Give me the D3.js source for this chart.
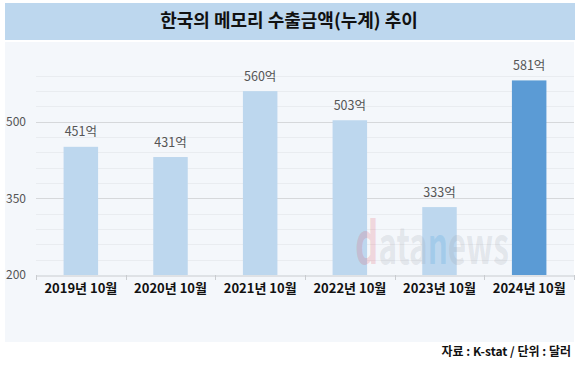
<!DOCTYPE html>
<html>
<head>
<meta charset="utf-8">
<script src="https://cdn.jsdelivr.net/npm/d3@7"></script>
<style>
  html, body { margin: 0; padding: 0; background: #ffffff; }
  svg { display: block; }
  text { font-family: "Noto Sans CJK KR", "Noto Sans", sans-serif; }
</style>
</head>
<body>
<svg id="chart" width="580" height="367"></svg>
<script>
const title = "한국의 메모리 수출금액(누계) 추이";
const source = "자료 : K-stat / 단위 : 달러";
const categories = ["2019년 10월", "2020년 10월", "2021년 10월", "2022년 10월", "2023년 10월", "2024년 10월"];
const values = [451, 431, 560, 503, 333, 581];
const valueLabels = ["451억", "431억", "560억", "503억", "333억", "581억"];
const highlight = [false, false, false, false, false, true];
const majorTicks = [200, 350, 500];
const minorTicks = [230, 260, 290, 320, 380, 410, 440, 470, 530, 560, 590];

const svg = d3.select("#chart");
const W = 580, H = 367;

// backgrounds
svg.append("rect").attr("x", 0).attr("y", 0).attr("width", W).attr("height", H).attr("fill", "#ffffff");
svg.append("rect").attr("x", 5).attr("y", 3).attr("width", 570).attr("height", 37).attr("fill", "#bdd7ee");
svg.append("rect").attr("x", 5).attr("y", 42).attr("width", 569).attr("height", 300).attr("fill", "#f4f7fb");

svg.append("text").attr("x", 289).attr("y", 27).attr("text-anchor", "middle")
  .attr("font-size", 18).attr("font-weight", 700).attr("fill", "#111").text(title);

const plot = { left: 36, right: 574, top: 70, bottom: 275 };
const x = d3.scaleBand().domain(categories).range([plot.left, plot.right]).paddingInner(0).paddingOuter(0);
const y = d3.scaleLinear().domain([200, 600]).range([plot.bottom, plot.bottom - 400 * 0.5107]);

// gridlines
const g = svg.append("g");
g.selectAll("line.minor").data(minorTicks).join("line")
  .attr("x1", plot.left).attr("x2", plot.right)
  .attr("y1", d => Math.round(y(d)) + 0.5).attr("y2", d => Math.round(y(d)) + 0.5)
  .attr("stroke", "#e9ecf0").attr("stroke-width", 1);
g.selectAll("line.major").data(majorTicks.slice(1)).join("line")
  .attr("x1", plot.left).attr("x2", plot.right)
  .attr("y1", d => Math.round(y(d)) + 0.5).attr("y2", d => Math.round(y(d)) + 0.5)
  .attr("stroke", "#d6d8db").attr("stroke-width", 1);

// y labels
svg.selectAll("text.ytick").data(majorTicks).join("text")
  .attr("x", 6).attr("y", d => y(d)).attr("dy", "0.35em")
  .attr("font-size", 12).attr("fill", "#555").text(d => d);

// bars
const bw = 34.5;
svg.selectAll("rect.bar").data(values).join("rect")
  .attr("x", (d, i) => x(categories[i]) + x.bandwidth() / 2 - bw / 2)
  .attr("y", d => y(d))
  .attr("width", bw)
  .attr("height", d => y(200) - y(d))
  .attr("fill", (d, i) => highlight[i] ? "#5b9bd5" : "#bdd7ee");

// watermark
const wmg = svg.append("g").attr("transform", "translate(355,264) scale(0.63,1)");
const wm = wmg.append("text").attr("x", 0).attr("y", 0)
  .attr("font-family", "Liberation Sans, Arial, sans-serif").attr("font-weight", 700);
wm.append("tspan").attr("font-size", 58).attr("fill", "#e0505e").attr("fill-opacity", 0.2).text("d");
wm.append("tspan").attr("font-size", 50).attr("fill", "#8c929c").attr("fill-opacity", 0.18).text("ata");
wm.append("tspan").attr("font-size", 50).attr("fill", "#4aa3e0").attr("fill-opacity", 0.22).text("n");
wm.append("tspan").attr("font-size", 50).attr("fill", "#8c929c").attr("fill-opacity", 0.18).text("ews");

// value labels
svg.selectAll("text.val").data(values).join("text")
  .attr("x", (d, i) => x(categories[i]) + x.bandwidth() / 2)
  .attr("y", d => y(d) - 10.5)
  .attr("text-anchor", "middle").attr("font-size", 12.5).attr("fill", "#555")
  .text((d, i) => valueLabels[i]);

// x axis
const xAxis = d3.axisBottom(x).tickSize(0).tickFormat(d => d);
const ax = svg.append("g").attr("transform", `translate(0,${plot.bottom + 0.5})`).call(xAxis);
ax.select(".domain").attr("stroke", "#c9ccd0");
ax.selectAll(".tick text").attr("font-size", 13).attr("font-weight", 700).attr("fill", "#111")
  .attr("y", 17).attr("dy", 0);
// boundary ticks
const bounds = categories.map(c => x(c)).concat([plot.right]);
svg.selectAll("line.btick").data(bounds).join("line")
  .attr("x1", d => Math.round(d) + 0.5).attr("x2", d => Math.round(d) + 0.5)
  .attr("y1", plot.bottom).attr("y2", plot.bottom + 5)
  .attr("stroke", "#c9ccd0");

// source
svg.append("text").attr("x", 571).attr("y", 356).attr("text-anchor", "end")
  .attr("font-size", 12).attr("font-weight", 700).attr("fill", "#111").text(source);
</script>
</body>
</html>
